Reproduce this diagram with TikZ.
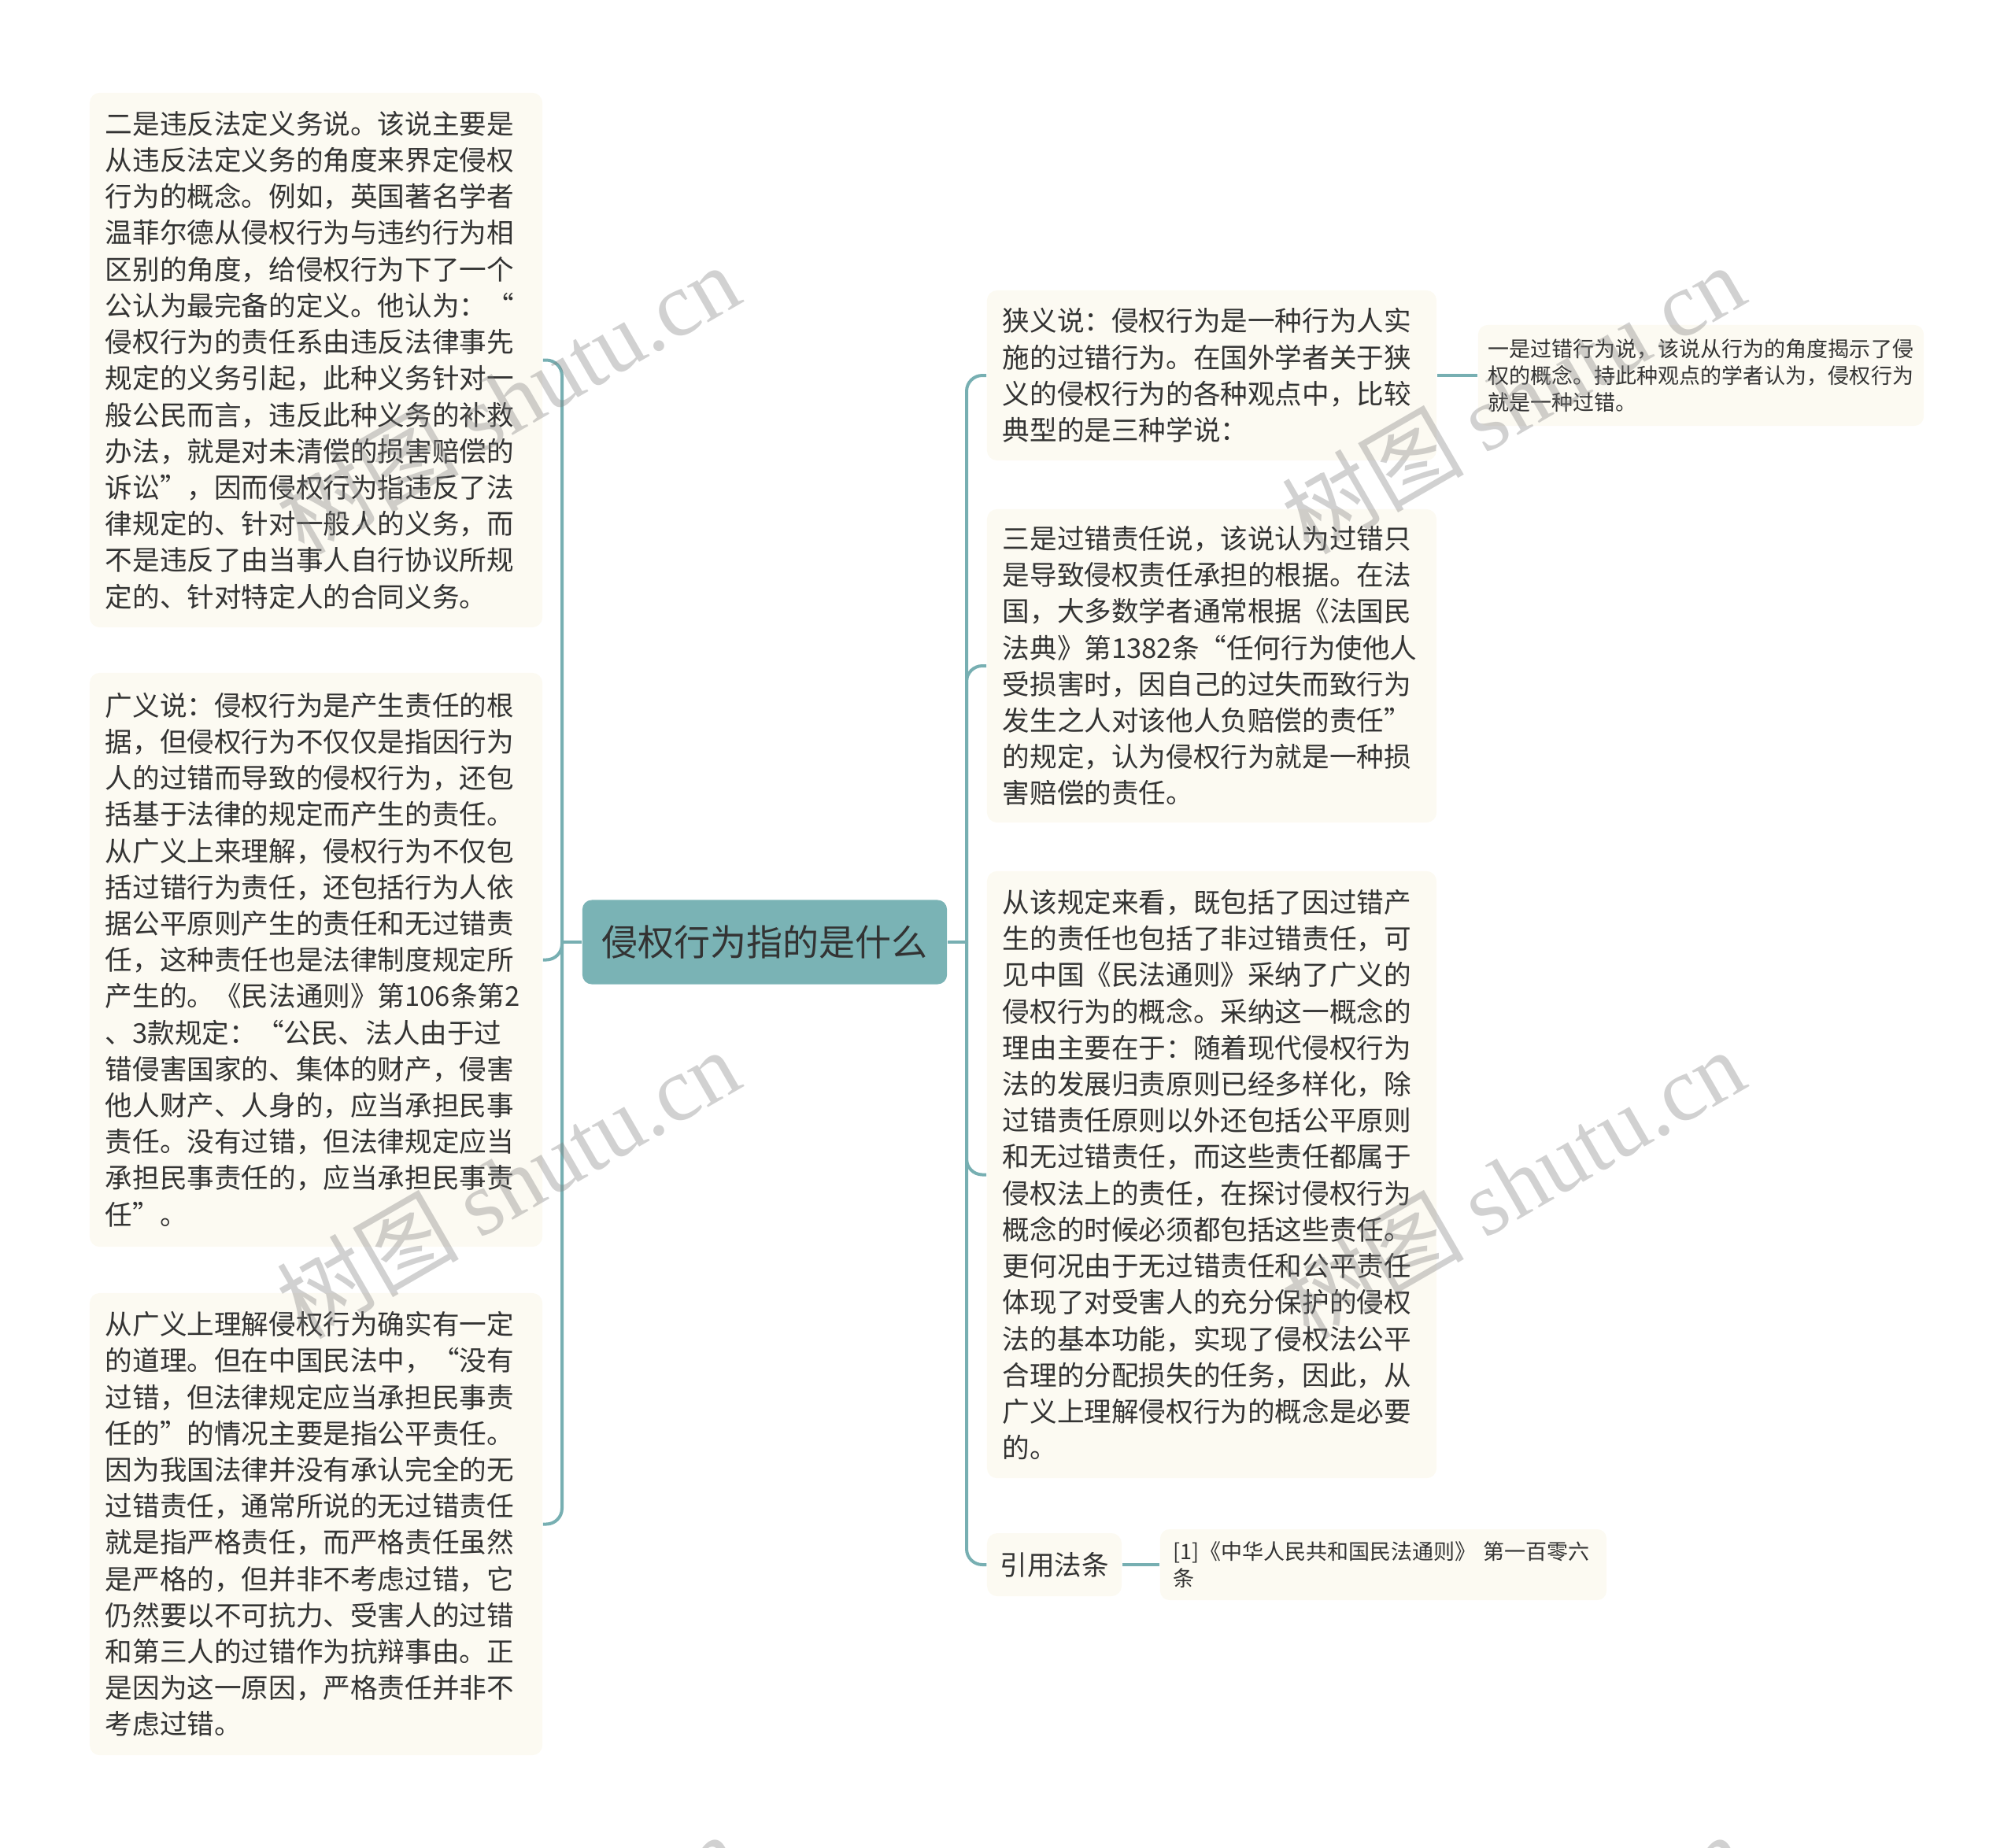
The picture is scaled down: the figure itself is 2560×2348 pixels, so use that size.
\documentclass[tikz,border=0pt]{standalone}
\usepackage{fontspec}
\setmainfont{Noto Sans CJK SC}
\newfontfamily\wmlatin{Liberation Serif}
\usepackage{tikz}
\definecolor{rootbg}{HTML}{7AB3B5}
\definecolor{linecol}{HTML}{77AFB2}
\definecolor{leafbg}{HTML}{FCFAF2}
\definecolor{txt}{HTML}{333333}

\begin{document}
\begin{tikzpicture}
[
x=0.01cm,y=-0.01cm,
topic/.style={fill=rootbg,rounded corners=0.12cm,text=txt,minimum width=4.63cm,minimum height=1.07cm,
              font=\fontsize{13.1pt}{16pt}\selectfont},
leaf/.style 2 args={fill=leafbg,rounded corners=0.13cm,text=txt,align=left,inner xsep=0.2cm,
              text width=#1,minimum height=#2,font=\fontsize{9.84pt}{13.14pt}\selectfont},
note/.style 2 args={fill=leafbg,rounded corners=0.12cm,text=txt,align=left,inner xsep=0.13cm,
              text width=#1,minimum height=#2,font=\fontsize{7.68pt}{9.67pt}\selectfont},
conn/.style={draw=linecol,line width=0.04cm,rounded corners=0.2cm},
wm/.style={text=gray,text opacity=0.36,font=\fontsize{33pt}{38pt}\selectfont,rotate=30},
]
\useasboundingbox (0,0) rectangle (2560,2348);

%Place the nodes
\node[topic] (a) at (971.5,1197) {侵权行为指的是什么};

\node[leaf={5.35cm}{6.79cm}] (b) at (401.5,457.5) {二是违反法定义务说。该说主要是\\
从违反法定义务的角度来界定侵权\\
行为的概念。例如，英国著名学者\\
温菲尔德从侵权行为与违约行为相\\
区别的角度，给侵权行为下了一个\\
公认为最完备的定义。他认为：“\\
侵权行为的责任系由违反法律事先\\
规定的义务引起，此种义务针对一\\
般公民而言，违反此种义务的补救\\
办法，就是对未清偿的损害赔偿的\\
诉讼”，因而侵权行为指违反了法\\
律规定的、针对一般人的义务，而\\
不是违反了由当事人自行协议所规\\
定的、针对特定人的合同义务。};
\node[leaf={5.35cm}{7.29cm}] (c) at (401.5,1219.5) {广义说：侵权行为是产生责任的根\\
据，但侵权行为不仅仅是指因行为\\
人的过错而导致的侵权行为，还包\\
括基于法律的规定而产生的责任。\\
从广义上来理解，侵权行为不仅包\\
括过错行为责任，还包括行为人依\\
据公平原则产生的责任和无过错责\\
任，这种责任也是法律制度规定所\\
产生的。《民法通则》第106条第2\\
、3款规定：“公民、法人由于过\\
错侵害国家的、集体的财产，侵害\\
他人财产、人身的，应当承担民事\\
责任。没有过错，但法律规定应当\\
承担民事责任的，应当承担民事责\\
任”。};
\node[leaf={5.35cm}{5.87cm}] (d) at (401.5,1936.5) {从广义上理解侵权行为确实有一定\\
的道理。但在中国民法中，“没有\\
过错，但法律规定应当承担民事责\\
任的”的情况主要是指公平责任。\\
因为我国法律并没有承认完全的无\\
过错责任，通常所说的无过错责任\\
就是指严格责任，而严格责任虽然\\
是严格的，但并非不考虑过错，它\\
仍然要以不可抗力、受害人的过错\\
和第三人的过错作为抗辩事由。正\\
是因为这一原因，严格责任并非不\\
考虑过错。};

\node[leaf={5.31cm}{2.16cm}] (e) at (1539.5,477) {狭义说：侵权行为是一种行为人实\\
施的过错行为。在国外学者关于狭\\
义的侵权行为的各种观点中，比较\\
典型的是三种学说：};
\node[leaf={5.31cm}{3.98cm}] (f) at (1539.5,846) {三是过错责任说，该说认为过错只\\
是导致侵权责任承担的根据。在法\\
国，大多数学者通常根据《法国民\\
法典》第1382条“任何行为使他人\\
受损害时，因自己的过失而致行为\\
发生之人对该他人负赔偿的责任”\\
的规定，认为侵权行为就是一种损\\
害赔偿的责任。};
\node[leaf={5.31cm}{7.71cm}] (g) at (1539.5,1492.5) {从该规定来看，既包括了因过错产\\
生的责任也包括了非过错责任，可\\
见中国《民法通则》采纳了广义的\\
侵权行为的概念。采纳这一概念的\\
理由主要在于：随着现代侵权行为\\
法的发展归责原则已经多样化，除\\
过错责任原则以外还包括公平原则\\
和无过错责任，而这些责任都属于\\
侵权法上的责任，在探讨侵权行为\\
概念的时候必须都包括这些责任。\\
更何况由于无过错责任和公平责任\\
体现了对受害人的充分保护的侵权\\
法的基本功能，实现了侵权法公平\\
合理的分配损失的任务，因此，从\\
广义上理解侵权行为的概念是必要\\
的。};
\node[leaf={1.38cm}{0.8cm},inner xsep=0.165cm] (h) at (1339.5,1988) {引用法条};

\node[note={5.4cm}{1.28cm}] (i) at (2161,477) {一是过错行为说，该说从行为的角度揭示了侵\\
权的概念。持此种观点的学者认为，侵权行为\\
就是一种过错。};
\node[note={5.33cm}{0.9cm},inner xsep=0.17cm] (j) at (1757.5,1988) {[1]《中华人民共和国民法通则》 第一百零六\\
条};

\coordinate (lh) at (714,1197);
\coordinate (rh) at (1228,1197);

%Draw the connections
\draw[conn] (a.west) -- (lh);
\draw[conn] (lh) |- (b.east);
\draw[conn] (lh) |- (c.east);
\draw[conn] (lh) |- (d.east);
\draw[conn] (a.east) -- (rh);
\draw[conn] (rh) |- (e.west);
\draw[conn] (rh) |- (f.west);
\draw[conn] (rh) |- (g.west);
\draw[conn] (rh) |- (h.west);
\draw[conn] (e.east) -- (i.west);
\draw[conn] (h.east) -- (j.west);

%Watermarks
\foreach \wx in {645,1922}
  \foreach \wy in {506,1503,2500}
    \node[wm] (w-\wx-\wy) at (\wx,\wy) {树图 {\wmlatin shutu.cn}};
\end{tikzpicture}
\end{document}
